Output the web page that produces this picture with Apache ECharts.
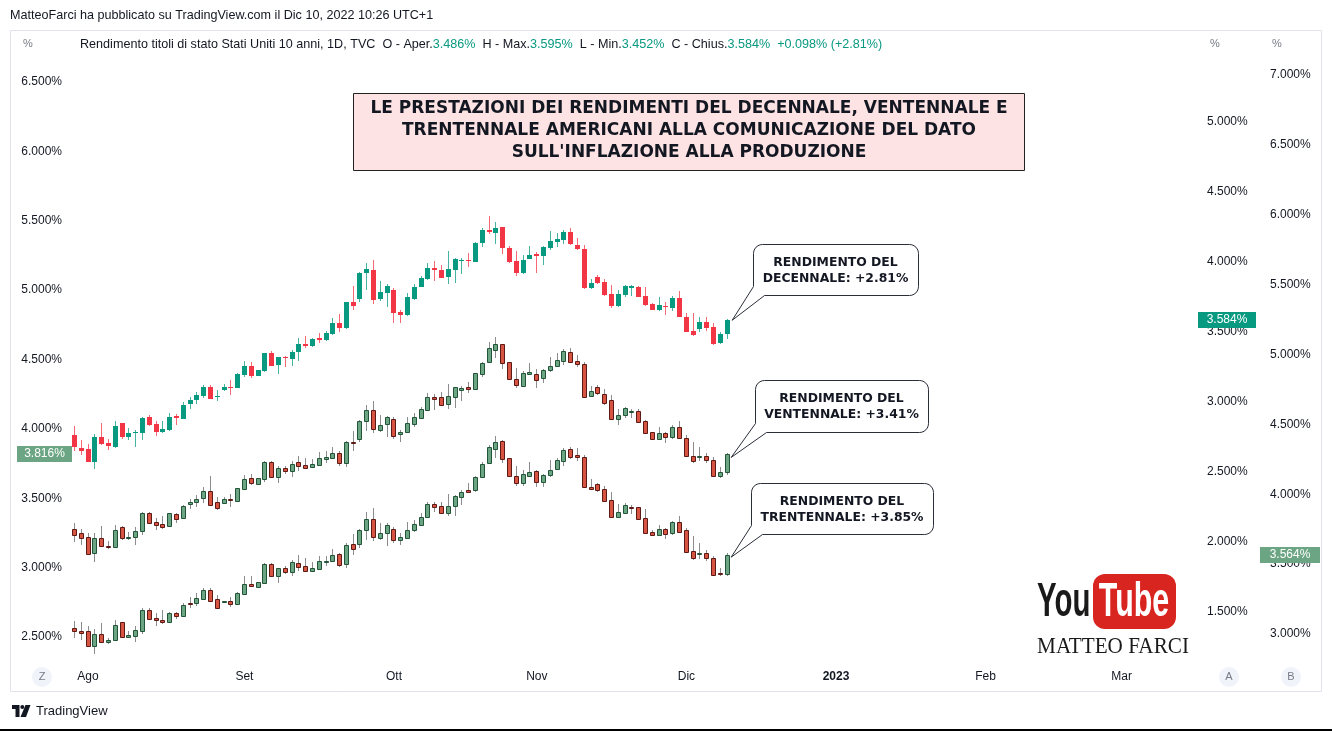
<!DOCTYPE html>
<html><head><meta charset="utf-8">
<script src="https://cdn.jsdelivr.net/npm/echarts/dist/echarts.min.js"></script>
<style>html,body{margin:0;padding:0;background:#fff}#c{width:1332px;height:731px}</style>
</head><body><div id="c"></div>
<script>
// ---- DATA ----
const startDate = '2022-07-28';
const endDate = '2023-03-15';
const monthStarts = ['2022-08-01','2022-09-01','2022-10-03','2022-11-01','2022-12-01','2023-01-02','2023-02-01','2023-03-01'];
const monthLabels = ['Ago','Set','Ott','Nov','Dic','2023','Feb','Mar'];
const zTicks = [2.5, 6.5];   // axis Z (20Y) range
const aTicks = [1.5, 5.0];   // axis A (10Y) range
const bTicks = [3.0, 7.0];   // axis B (30Y) range
const tickStep = 0.5;

// [open, high, low, close]
const tenY = [
[2.764,2.829,2.652,2.676],[2.674,2.729,2.621,2.652],[2.667,2.698,2.569,2.574],[2.574,2.771,2.519,2.752],[2.752,2.848,2.695,2.700],
[2.705,2.733,2.657,2.686],[2.681,2.867,2.675,2.831],[2.848,2.850,2.738,2.752],[2.752,2.812,2.728,2.781],[2.780,2.800,2.676,2.783],
[2.781,2.895,2.728,2.886],[2.890,2.907,2.830,2.836],[2.840,2.864,2.760,2.788],[2.783,2.867,2.776,2.807],[2.800,2.919,2.795,2.895],
[2.900,2.914,2.836,2.883],[2.880,2.998,2.876,2.976],[2.983,3.038,2.947,3.014],[3.014,3.073,2.986,3.047],[3.043,3.124,3.026,3.105],
[3.105,3.124,3.020,3.024],[3.038,3.086,3.010,3.045],[3.083,3.129,3.080,3.105],[3.108,3.157,3.050,3.102],[3.102,3.205,3.098,3.198],
[3.190,3.295,3.181,3.260],[3.260,3.288,3.174,3.186],[3.188,3.230,3.185,3.226],[3.221,3.348,3.212,3.348],[3.348,3.364,3.255,3.260],
[3.267,3.324,3.198,3.319],[3.321,3.331,3.248,3.314],[3.307,3.371,3.257,3.355],[3.357,3.460,3.295,3.412],[3.412,3.471,3.383,3.402],
[3.402,3.460,3.395,3.452],[3.455,3.490,3.419,3.445],[3.443,3.509,3.438,3.490],[3.486,3.602,3.479,3.562],[3.562,3.626,3.502,3.526],
[3.526,3.714,3.519,3.714],[3.714,3.829,3.657,3.686],[3.733,3.930,3.717,3.924],[3.924,3.990,3.800,3.948],[3.940,4.014,3.698,3.729],
[3.733,3.867,3.724,3.788],[3.781,3.843,3.681,3.829],[3.800,3.812,3.567,3.638],[3.640,3.657,3.567,3.619],[3.619,3.781,3.615,3.748],
[3.736,3.843,3.729,3.824],[3.821,3.902,3.820,3.883],[3.881,3.990,3.871,3.960],[3.955,4.007,3.867,3.943],[3.943,3.979,3.883,3.888],
[3.895,4.079,3.840,3.948],[3.943,4.026,3.852,4.021],[4.005,4.026,3.912,4.014],[4.014,4.067,3.962,4.005],[4.002,4.140,4.000,4.138],
[4.133,4.240,4.105,4.229],[4.229,4.331,4.198,4.214],[4.205,4.288,4.126,4.240],[4.248,4.248,4.055,4.102],[4.102,4.114,3.995,4.002],
[4.007,4.081,3.900,3.919],[3.919,4.050,3.915,4.014],[4.021,4.114,4.020,4.050],[4.057,4.074,3.919,4.043],[4.043,4.114,3.979,4.105],
[4.102,4.221,4.086,4.150],[4.145,4.205,4.105,4.162],[4.157,4.229,4.126,4.214],[4.214,4.240,4.121,4.126],[4.124,4.174,4.086,4.090],
[4.093,4.121,3.807,3.812],[3.812,3.879,3.807,3.848],[3.895,3.907,3.843,3.848],[3.855,3.879,3.757,3.764],[3.771,3.836,3.669,3.686],
[3.686,3.800,3.681,3.769],[3.764,3.836,3.748,3.829],[3.817,3.838,3.760,3.829],[3.824,3.829,3.748,3.752],[3.757,3.824,3.688,3.693],
[3.702,3.705,3.657,3.657],[3.657,3.748,3.652,3.693],[3.686,3.714,3.619,3.676],[3.674,3.757,3.652,3.745],[3.745,3.795,3.605,3.605],
[3.605,3.638,3.500,3.502],[3.510,3.638,3.474,3.479],[3.521,3.610,3.502,3.574],[3.574,3.610,3.509,3.526],[3.533,3.562,3.407,3.412],
[3.419,3.502,3.414,3.486],[3.486,3.595,3.452,3.584]
];
const twentyY = [
[3.277,3.320,3.188,3.236],[3.253,3.277,3.164,3.212],[3.224,3.248,3.099,3.099],[3.104,3.248,3.039,3.212],[3.212,3.301,3.157,3.157],
[3.159,3.195,3.133,3.147],[3.147,3.308,3.147,3.272],[3.291,3.301,3.200,3.210],[3.212,3.260,3.200,3.224],[3.219,3.291,3.164,3.267],
[3.267,3.404,3.236,3.392],[3.392,3.404,3.320,3.320],[3.332,3.356,3.272,3.308],[3.315,3.373,3.277,3.296],[3.301,3.397,3.296,3.392],
[3.387,3.392,3.320,3.351],[3.356,3.452,3.349,3.445],[3.457,3.493,3.421,3.471],[3.471,3.524,3.440,3.495],[3.500,3.580,3.464,3.553],
[3.553,3.657,3.447,3.452],[3.471,3.507,3.416,3.433],[3.464,3.507,3.459,3.495],[3.495,3.531,3.440,3.486],[3.481,3.572,3.474,3.572],
[3.565,3.669,3.560,3.637],[3.644,3.673,3.592,3.608],[3.604,3.644,3.604,3.644],[3.640,3.765,3.620,3.760],[3.760,3.765,3.656,3.656],
[3.656,3.729,3.608,3.717],[3.717,3.733,3.676,3.693],[3.697,3.765,3.656,3.748],[3.760,3.808,3.697,3.736],[3.741,3.789,3.717,3.721],
[3.724,3.782,3.717,3.748],[3.741,3.832,3.736,3.789],[3.784,3.841,3.753,3.794],[3.789,3.868,3.784,3.825],[3.825,3.837,3.729,3.753],
[3.753,3.916,3.724,3.909],[3.909,3.988,3.837,3.897],[3.928,4.065,3.904,4.058],[4.060,4.173,3.988,4.137],[4.137,4.204,3.969,3.998],
[3.993,4.101,3.981,4.029],[4.034,4.094,3.945,4.084],[4.072,4.084,3.928,3.952],[3.962,3.993,3.909,3.981],[3.974,4.089,3.969,4.041],
[4.034,4.113,4.017,4.082],[4.077,4.161,4.070,4.142],[4.137,4.257,4.130,4.228],[4.228,4.252,4.137,4.216],[4.228,4.264,4.173,4.173],
[4.180,4.324,4.142,4.238],[4.228,4.300,4.154,4.300],[4.281,4.310,4.204,4.293],[4.300,4.341,4.262,4.286],[4.286,4.401,4.281,4.401],
[4.396,4.485,4.377,4.478],[4.480,4.629,4.473,4.581],[4.569,4.665,4.509,4.610],[4.610,4.610,4.432,4.478],[4.485,4.485,4.358,4.360],
[4.360,4.437,4.293,4.317],[4.312,4.418,4.305,4.401],[4.396,4.473,4.389,4.408],[4.396,4.430,4.293,4.353],[4.365,4.430,4.334,4.425],
[4.425,4.516,4.408,4.454],[4.456,4.545,4.449,4.497],[4.492,4.574,4.461,4.562],[4.557,4.581,4.473,4.485],[4.490,4.533,4.449,4.466],
[4.466,4.485,4.226,4.228],[4.238,4.310,4.233,4.276],[4.300,4.317,4.245,4.257],[4.252,4.286,4.173,4.190],[4.209,4.245,4.065,4.070],
[4.070,4.142,4.029,4.101],[4.098,4.161,4.077,4.154],[4.123,4.142,4.077,4.132],[4.127,4.142,4.046,4.053],[4.060,4.065,3.964,3.969],
[3.976,3.981,3.921,3.925],[3.925,4.012,3.921,3.969],[3.969,3.981,3.901,3.945],[3.945,4.029,3.925,4.017],[4.012,4.058,3.925,3.933],
[3.933,3.957,3.796,3.801],[3.806,3.909,3.753,3.765],[3.796,3.868,3.765,3.806],[3.808,3.825,3.753,3.777],[3.777,3.796,3.652,3.657],
[3.657,3.724,3.645,3.690],[3.690,3.825,3.669,3.816]
];
const thirtyY = [
[3.042,3.090,2.970,3.018],[3.025,3.083,2.958,3.006],[3.018,3.054,2.911,2.911],[2.911,3.035,2.856,3.001],[3.001,3.078,2.940,2.940],
[2.940,2.970,2.928,2.958],[2.958,3.102,2.958,3.066],[3.083,3.083,2.978,2.982],[2.978,3.025,2.978,2.994],[2.987,3.054,2.940,3.030],
[3.025,3.185,3.001,3.173],[3.173,3.185,3.106,3.106],[3.113,3.149,3.054,3.097],[3.102,3.173,3.073,3.083],[3.083,3.161,3.078,3.149],
[3.149,3.161,3.106,3.132],[3.130,3.221,3.120,3.209],[3.221,3.268,3.185,3.216],[3.221,3.292,3.197,3.257],[3.249,3.328,3.245,3.316],
[3.316,3.328,3.226,3.233],[3.249,3.280,3.185,3.185],[3.226,3.237,3.221,3.237],[3.237,3.264,3.192,3.216],[3.216,3.297,3.209,3.292],
[3.288,3.412,3.280,3.359],[3.359,3.412,3.335,3.340],[3.335,3.371,3.335,3.371],[3.364,3.507,3.359,3.500],[3.502,3.507,3.412,3.412],
[3.412,3.471,3.364,3.471],[3.471,3.488,3.430,3.447],[3.447,3.531,3.412,3.512],[3.507,3.567,3.454,3.483],[3.488,3.543,3.447,3.454],
[3.454,3.512,3.447,3.469],[3.464,3.555,3.459,3.519],[3.512,3.555,3.488,3.519],[3.519,3.607,3.512,3.567],[3.571,3.583,3.483,3.495],
[3.502,3.650,3.471,3.638],[3.645,3.717,3.567,3.607],[3.645,3.750,3.614,3.741],[3.745,3.876,3.674,3.822],[3.822,3.900,3.662,3.693],
[3.686,3.793,3.674,3.722],[3.722,3.793,3.631,3.781],[3.753,3.769,3.650,3.674],[3.674,3.721,3.638,3.693],[3.690,3.805,3.686,3.745],
[3.741,3.817,3.733,3.786],[3.781,3.869,3.774,3.836],[3.836,3.948,3.829,3.931],[3.931,3.948,3.876,3.912],[3.919,3.948,3.865,3.865],
[3.865,3.999,3.841,3.919],[3.917,3.996,3.846,3.991],[3.979,4.031,3.924,4.019],[4.031,4.079,4.007,4.019],[4.027,4.132,4.019,4.127],
[4.122,4.230,4.115,4.218],[4.222,4.353,4.218,4.341],[4.322,4.418,4.258,4.377],[4.384,4.389,4.222,4.251],[4.258,4.258,4.134,4.134],
[4.134,4.203,4.060,4.084],[4.084,4.170,4.060,4.144],[4.134,4.230,4.127,4.160],[4.163,4.170,4.055,4.091],[4.091,4.144,4.055,4.139],
[4.139,4.246,4.127,4.175],[4.180,4.258,4.170,4.246],[4.241,4.330,4.203,4.318],[4.322,4.341,4.251,4.265],[4.282,4.330,4.241,4.265],
[4.265,4.282,4.048,4.051],[4.051,4.108,4.031,4.041],[4.075,4.084,4.019,4.031],[4.036,4.060,3.941,3.955],[3.960,4.019,3.829,3.836],
[3.836,3.931,3.829,3.876],[3.869,3.936,3.860,3.924],[3.912,3.924,3.860,3.900],[3.907,3.912,3.817,3.822],[3.829,3.893,3.722,3.726],
[3.733,3.745,3.702,3.705],[3.705,3.781,3.698,3.750],[3.750,3.757,3.678,3.717],[3.721,3.812,3.710,3.805],[3.800,3.845,3.721,3.729],
[3.741,3.757,3.583,3.590],[3.597,3.702,3.531,3.543],[3.573,3.650,3.535,3.583],[3.583,3.602,3.519,3.543],[3.543,3.555,3.412,3.423],
[3.438,3.471,3.412,3.432],[3.432,3.579,3.412,3.564]
];
const titleLines = ["LE PRESTAZIONI DEI RENDIMENTI DEL DECENNALE, VENTENNALE E","TRENTENNALE AMERICANI ALLA COMUNICAZIONE DEL DATO","SULL'INFLAZIONE ALLA PRODUZIONE"];
const calloutTexts = ["RENDIMENTO DEL\nDECENNALE: +2.81%","RENDIMENTO DEL\nVENTENNALE: +3.41%","RENDIMENTO DEL\nTRENTENNALE: +3.85%"];

// ---- BUILD ----
function weekdays(a, b) {
  const out = []; let d = new Date(a + 'T00:00:00Z'); const e = new Date(b + 'T00:00:00Z');
  while (d <= e) { const w = d.getUTCDay(); if (w !== 0 && w !== 6) out.push(d.toISOString().slice(0, 10)); d = new Date(d.getTime() + 86400000); }
  return out;
}
const dates = weekdays(startDate, endDate);
const UI = '"Liberation Sans", Arial, sans-serif';
const TXT = '#131722';

function renderCandle(st) {
  return function (params, api) {
    const i = api.value(0), o = api.value(1), h = api.value(2), l = api.value(3), c = api.value(4);
    const po = api.coord([i, o]), pc = api.coord([i, c]), ph = api.coord([i, h]), pl = api.coord([i, l]);
    const wx = Math.floor(po[0]) + 0.5;
    const up = c >= o;
    const top = Math.min(po[1], pc[1]), bot = Math.max(po[1], pc[1]);
    const ch = [{ type: 'line', shape: { x1: wx, y1: Math.round(ph[1]), x2: wx, y2: Math.round(pl[1]) },
      style: { stroke: up ? st.wickUp : st.wickDown, lineWidth: 1 } }];
    if (st.border) {
      const t = Math.round(top) + 0.5; const b = Math.max(Math.round(bot) + 0.5, t + 1);
      ch.push({ type: 'rect', shape: { x: wx - 2, y: t, width: 4, height: b - t },
        style: { fill: up ? st.up : st.down, stroke: up ? st.bUp : st.bDown, lineWidth: 1 } });
    } else {
      const t = Math.round(top); const b = Math.max(Math.round(bot), t + 1);
      ch.push({ type: 'rect', shape: { x: wx - 2.5, y: t, width: 5, height: b - t }, style: { fill: up ? st.up : st.down } });
    }
    return { type: 'group', children: ch };
  };
}
function series(data, ax, st) {
  return { type: 'custom', xAxisIndex: ax, yAxisIndex: ax, animation: false,
    data: data.map((d, i) => [i, d[0], d[1], d[2], d[3]]), encode: { x: 0, y: [1, 2, 3, 4] },
    renderItem: renderCandle(st) };
}
const tvStyle = { up: '#089981', down: '#f23645', wickUp: 'rgba(8,153,129,0.75)', wickDown: 'rgba(242,54,69,0.75)', border: false };
const mStyle = { up: '#6ba583', down: '#d75442', bUp: '#225437', bDown: '#5b1a13', wickUp: '#8c8c8e', wickDown: '#8c8c8e', border: true };

const fmt = v => v.toFixed(3) + '%';
const yLab = (margin) => ({ margin, formatter: fmt, color: TXT, fontSize: 12, fontFamily: UI });
const gridBase = { left: 71, width: 1122 };
const option = {
  animation: false,
  backgroundColor: '#ffffff',
  grid: [
    Object.assign({ top: 82, height: 555 }, gridBase),
    Object.assign({ top: 122, height: 490 }, gridBase),
    Object.assign({ top: 75, height: 559 }, gridBase)
  ],
  xAxis: [0, 1, 2].map(g => ({
    gridIndex: g, type: 'category', data: dates, boundaryGap: true, show: g === 0, offset: 28,
    axisLine: { show: false }, axisTick: { show: false }, splitLine: { show: false },
    axisLabel: {
      margin: 6, color: TXT, fontSize: 12, fontFamily: UI,
      interval: (idx, val) => monthStarts.indexOf(val) >= 0,
      formatter: val => { const k = monthStarts.indexOf(val); const s = monthLabels[k] || ''; return /^\d{4}$/.test(s) ? '{b|' + s + '}' : s; },
      rich: { b: { fontWeight: 'bold', color: TXT, fontSize: 12, fontFamily: UI } }
    }
  })),
  yAxis: [
    { gridIndex: 0, type: 'value', position: 'left', min: zTicks[0], max: zTicks[1], interval: tickStep,
      axisLine: { show: false }, axisTick: { show: false }, splitLine: { show: false }, axisLabel: yLab(9) },
    { gridIndex: 1, type: 'value', position: 'right', min: aTicks[0], max: aTicks[1], interval: tickStep,
      axisLine: { show: false }, axisTick: { show: false }, splitLine: { show: false }, axisLabel: yLab(14) },
    { gridIndex: 2, type: 'value', position: 'right', min: bTicks[0], max: bTicks[1], interval: tickStep,
      axisLine: { show: false }, axisTick: { show: false }, splitLine: { show: false }, axisLabel: yLab(77) }
  ],
  series: [series(twentyY, 0, mStyle), series(thirtyY, 2, mStyle), series(tenY, 1, tvStyle)]
};
const chart = echarts.init(document.getElementById('c'), null, { renderer: 'canvas' });
chart.setOption(option);

// ---- ANNOTATIONS ----
const last = tenY.length - 1;
const p10 = chart.convertToPixel({ xAxisIndex: 1, yAxisIndex: 1 }, [last, tenY[last][3]]);
const p20 = chart.convertToPixel({ xAxisIndex: 0, yAxisIndex: 0 }, [last, twentyY[last][3]]);
const p30 = chart.convertToPixel({ xAxisIndex: 2, yAxisIndex: 2 }, [last, thirtyY[last][3]]);

function calloutPts(x, y, w, h, r, tip) {
  const pts = [];
  const arc = (cx, cy, a0, a1) => { for (let k = 0; k <= 6; k++) { const a = (a0 + (a1 - a0) * k / 6) * Math.PI / 180; pts.push([cx + r * Math.cos(a), cy + r * Math.sin(a)]); } };
  arc(x + r, y + r, 180, 270);
  arc(x + w - r, y + r, 270, 360);
  arc(x + w - r, y + h - r, 0, 90);
  pts.push([x + 11, y + h]); pts.push(tip); pts.push([x, y + h - 9]);
  return pts;
}
function callout(x, y, w, h, tip, text) {
  return [
    { type: 'polygon', shape: { points: calloutPts(x + 0.5, y + 0.5, w, h, 9, tip) }, style: { fill: '#ffffff', stroke: '#2a2e39', lineWidth: 1 }, z: 10 },
    { type: 'text', x: x + w / 2, y: y + h / 2 + 1, z: 11, style: { text, align: 'center', verticalAlign: 'middle', font: 'bold 12.4px "DejaVu Sans", sans-serif', fill: TXT, lineHeight: 16 } }
  ];
}
function priceTag(x, w, cy, val, color) {
  return [
    { type: 'rect', shape: { x: x, y: Math.round(cy) - 8, width: w, height: 16 }, style: { fill: color }, z: 12 },
    { type: 'text', x: x + w / 2, y: Math.round(cy), z: 13, style: { text: fmt(val), align: 'center', verticalAlign: 'middle', font: '12px ' + UI, fill: '#ffffff' } }
  ];
}
const o10 = tenY[last], prev10 = tenY[last - 1][3];
const chg = o10[3] - prev10;
const legendText = '{d|Rendimento titoli di stato Stati Uniti 10 anni, 1D, TVC  O - Aper.}{g|' + fmt(o10[0]) + '}{d|  H - Max.}{g|' + fmt(o10[1]) +
  '}{d|  L - Min.}{g|' + fmt(o10[2]) + '}{d|  C - Chius.}{g|' + fmt(o10[3]) + '}{g|  ' + (chg >= 0 ? '+' : '') + chg.toFixed(3) + '% (' + (chg >= 0 ? '+' : '') + (chg / prev10 * 100).toFixed(2) + '%)}';
const HF = '12.6px ' + UI;

const g = [];
// frame
g.push({ type: 'rect', shape: { x: 10.5, y: 30.5, width: 1311, height: 661 }, style: { fill: null, stroke: '#e0e3eb', lineWidth: 1 }, z: 1 });
g.push({ type: 'text', x: 10, y: 16, style: { text: 'MatteoFarci ha pubblicato su TradingView.com il Dic 10, 2022 10:26 UTC+1', font: HF, fill: TXT, verticalAlign: 'middle' } });
g.push({ type: 'text', x: 80, y: 45, style: { text: legendText, verticalAlign: 'middle', font: HF,
  rich: { d: { fill: TXT, font: HF }, g: { fill: '#089981', font: HF } } } });
[[23, '%'], [1210, '%'], [1272, '%']].forEach(p => g.push({ type: 'text', x: p[0], y: 44, style: { text: p[1], font: '11px ' + UI, fill: '#787b86', verticalAlign: 'middle' } }));
// title
g.push({ type: 'rect', shape: { x: 353.5, y: 93.5, width: 671, height: 77 }, style: { fill: '#fde3e3', stroke: '#222', lineWidth: 1 }, z: 5 });
g.push({ type: 'text', x: 689, y: 131, z: 6, style: { text: titleLines.join('\n'), align: 'center', verticalAlign: 'middle', font: 'bold 17px "DejaVu Sans", sans-serif', fill: TXT, lineHeight: 22 } });
// callouts
g.push(...callout(753, 244, 165, 51, [p10[0] + 5, p10[1]], calloutTexts[0]));
g.push(...callout(755, 380, 173, 52, [p20[0] + 4, p20[1] + 3], calloutTexts[1]));
g.push(...callout(751, 483, 182, 51, [p30[0] + 4, p30[1] + 2], calloutTexts[2]));
// price tags
g.push(...priceTag(1198, 58, p10[1], tenY[last][3], '#089981'));
g.push(...priceTag(1260, 60, p30[1], thirtyY[last][3], '#6ba583'));
g.push(...priceTag(17, 55, p20[1], twentyY[last][3], '#6ba583'));
// axis badges
[[42, 'Z'], [1229, 'A'], [1291, 'B']].forEach(p => {
  g.push({ type: 'circle', shape: { cx: p[0], cy: 677, r: 10 }, style: { fill: '#f0f3fa' } });
  g.push({ type: 'text', x: p[0], y: 677, style: { text: p[1], align: 'center', verticalAlign: 'middle', font: '11px ' + UI, fill: '#787b86' } });
});
// YouTube logo
g.push({ type: 'text', x: 1037, y: 602, scaleX: 0.6, style: { text: 'You', font: 'bold 49px "Liberation Sans", Arial, sans-serif', fill: '#1a1a1a', verticalAlign: 'middle' } });
g.push({ type: 'rect', shape: { x: 1093, y: 574, width: 83, height: 55, r: 12 }, style: { fill: '#d9251f' } });
g.push({ type: 'text', x: 1134, y: 602, scaleX: 0.62, style: { text: 'Tube', font: 'bold 49px "Liberation Sans", Arial, sans-serif', fill: '#ffffff', align: 'center', verticalAlign: 'middle' } });
g.push({ type: 'text', x: 1113, y: 647, scaleX: 0.92, style: { text: 'MATTEO FARCI', font: '23px "Liberation Serif", "DejaVu Serif", serif', fill: '#1a1a1a', align: 'center', verticalAlign: 'middle' } });
// TradingView footer
g.push({ type: 'polygon', shape: { points: [[12, 705], [19.5, 705], [19.5, 717], [15.5, 717], [15.5, 709], [12, 709]] }, style: { fill: TXT } });
g.push({ type: 'circle', shape: { cx: 22.3, cy: 707, r: 2 }, style: { fill: TXT } });
g.push({ type: 'polygon', shape: { points: [[25.5, 705], [30.5, 705], [26, 717], [20.5, 717]] }, style: { fill: TXT } });
g.push({ type: 'text', x: 36, y: 711, style: { text: 'TradingView', font: '13px ' + UI, fill: TXT, verticalAlign: 'middle' } });
g.push({ type: 'rect', shape: { x: 0, y: 729, width: 1332, height: 2 }, style: { fill: '#000' } });

chart.setOption({ graphic: { elements: g } });
</script></body></html>
